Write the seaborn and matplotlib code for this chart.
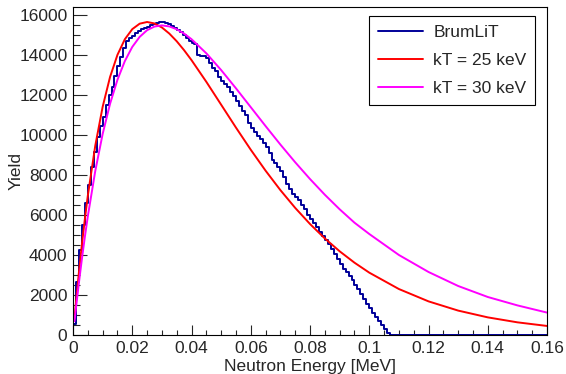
import numpy as np
import seaborn as sns
import matplotlib.pyplot as plt
from matplotlib.ticker import MultipleLocator, FuncFormatter

# BrumLiT simulated spectrum, 1 keV bins starting at 0
brumlit_yield = [550, 2650, 4250, 5500, 6600, 7500, 8400, 9150, 9900, 10450,
                 10900, 11500, 12000, 12400, 12950, 13450, 13900, 14350, 14700, 14850,
                 14950, 15100, 15200, 15300, 15350, 15400, 15500, 15550, 15600, 15650,
                 15650, 15600, 15550, 15450, 15350, 15250, 15150, 15000, 14850, 14700,
                 14600, 14550, 14000, 13950, 13950, 13850, 13600, 13350, 13200, 12900,
                 12700, 12550, 12400, 12150, 11950, 11700, 11450, 11200, 11000, 10600,
                 10350, 10150, 9950, 9800, 9600, 9400, 9100, 8750, 8600, 8400,
                 8200, 7900, 7550, 7300, 7050, 6900, 6750, 6500, 6300, 6000,
                 5800, 5600, 5400, 5150, 4950, 4750, 4550, 4300, 4050, 3800,
                 3550, 3300, 3150, 2950, 2750, 2500, 2300, 2050, 1800, 1550,
                 1350, 1100, 900, 700, 500, 300, 100]
brumlit_yield = brumlit_yield + [0] * (160 - len(brumlit_yield))
bin_width = 0.001
brumlit_energy = [(i + 0.5) * bin_width for i in range(len(brumlit_yield))]

# Maxwellian reference curves
curve_energy = [0.0005, 0.001, 0.002, 0.003, 0.004, 0.005, 0.0075, 0.01, 0.0125, 0.015,
                0.0175, 0.02, 0.0225, 0.025, 0.0275, 0.03, 0.0325, 0.035, 0.0375, 0.04,
                0.045, 0.05, 0.055, 0.06, 0.065, 0.07, 0.075, 0.08, 0.085, 0.09,
                0.095, 0.1, 0.11, 0.12, 0.13, 0.14, 0.15, 0.16]
kt25_yield = [834, 1635, 3142, 4528, 5800, 6966, 9455, 11406, 12901, 14008,
              14788, 15292, 15566, 15650, 15577, 15376, 15072, 14687, 14238, 13742,
              12658, 11515, 10370, 9262, 8215, 7243, 6354, 5549, 4827, 4185,
              3616, 3117, 2298, 1681, 1220, 881, 633, 452]
kt30_yield = [690, 1357, 2624, 3807, 4910, 5937, 8193, 10050, 11559, 12761,
              13697, 14403, 14907, 15240, 15423, 15480, 15429, 15287, 15070, 14789,
              14084, 13246, 12334, 11390, 10445, 9521, 8635, 7797, 7012, 6285,
              5616, 5050, 4000, 3150, 2450, 1900, 1480, 1120]

sns.set_style("ticks")
plt.rcParams['font.family'] = ['Liberation Sans', 'DejaVu Sans']

fig = plt.figure(figsize=(5.66, 3.74), dpi=100)
ax = fig.add_axes([0.129, 0.1043, 0.8375, 0.877])

sns.histplot(x=brumlit_energy, weights=brumlit_yield, binwidth=bin_width, binrange=(0, 0.16),
             element="step", fill=False, color="#000099", linewidth=1.4, label="BrumLiT", ax=ax)
sns.lineplot(x=curve_energy, y=kt25_yield, color="#ff0000", linewidth=1.4,
             label="kT = 25 keV", ax=ax)
sns.lineplot(x=curve_energy, y=kt30_yield, color="#ff00ff", linewidth=1.4,
             label="kT = 30 keV", ax=ax)

ax.set_xlim(0, 0.16)
ax.set_ylim(0, 16400)
ax.xaxis.set_major_locator(MultipleLocator(0.02))
ax.xaxis.set_minor_locator(MultipleLocator(0.005))
ax.yaxis.set_major_locator(MultipleLocator(2000))
ax.yaxis.set_minor_locator(MultipleLocator(500))
ax.xaxis.set_major_formatter(FuncFormatter(lambda v, p: "%g" % round(v, 4)))

ax.tick_params(axis='x', which='major', direction='in', length=7.2, width=0.8, labelsize=12.5, pad=4)
ax.tick_params(axis='x', which='minor', direction='in', length=3.6, width=0.8)
ax.tick_params(axis='y', which='major', direction='in', length=10, width=0.8, labelsize=12.5, pad=4)
ax.tick_params(axis='y', which='minor', direction='in', length=5, width=0.8)
for s in ax.spines.values():
    s.set_linewidth(0.8)
    s.set_color('black')

ax.set_xlabel("Neutron Energy [MeV]", fontsize=12.5)
ax.set_ylabel("Yield", fontsize=12.5)
ax.xaxis.set_label_coords(0.5, -0.072)
ax.yaxis.set_label_coords(-0.105, 0.5)

leg = ax.legend(loc="upper right", bbox_to_anchor=(0.975, 0.973), borderaxespad=0,
                fontsize=12.5, fancybox=False, framealpha=1, edgecolor="black",
                handlelength=2.6, handletextpad=0.6, labelspacing=0.75, borderpad=0.5)
leg.get_frame().set_linewidth(0.8)

fig.savefig("out.png", dpi=100)
